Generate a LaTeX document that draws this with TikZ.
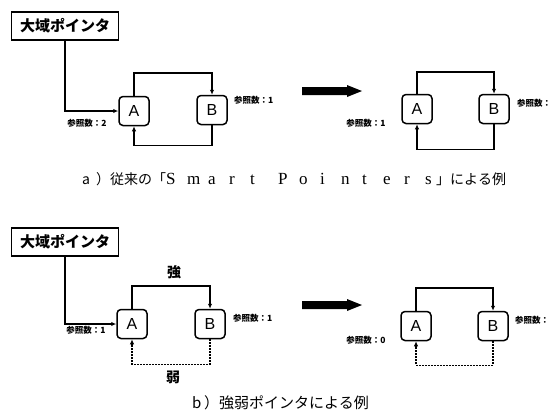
\documentclass[tikz,border=0pt]{standalone}
\usepackage{fontspec}
\setmainfont{Liberation Serif}
\setsansfont{Liberation Sans}
\newfontfamily\jp{Noto Sans CJK JP}
\usetikzlibrary{arrows.meta,calc}
\newcommand\lsp[1]{\makebox[21bp][l]{#1}}
\newcommand\jb[1]{\makebox[14bp][l]{#1}}
\begin{document}
\begin{tikzpicture}[x=1bp,y=-1bp,
  conn/.style={line width=1.5bp,-{Latex[length=5bp,width=4.5bp]}},
  weak/.style={line width=1.5bp,dash pattern=on 1.8bp off 1.2bp,-{Latex[length=5bp,width=4.5bp]}},
  gbox/.style={draw,line width=1.5bp,minimum width=107bp,minimum height=28bp,inner sep=0pt,font=\jp\bfseries\fontsize{15bp}{15bp}\selectfont},
  obj/.style={draw,line width=1.5bp,rounded corners=4bp,minimum width=30bp,minimum height=29bp,inner sep=0pt,font=\sffamily\fontsize{16bp}{16bp}\selectfont},
  cnt/.style={font=\jp\bfseries\fontsize{8.5bp}{9bp}\selectfont,inner sep=0pt},
  captext/.style={font=\jp\fontsize{14bp}{14bp}\selectfont,inner sep=0pt},
  lbl/.style={font=\jp\bfseries\fontsize{14bp}{14bp}\selectfont,inner sep=0pt},
  bigarrow/.style={fill=black}]
\useasboundingbox (0,0) rectangle (556,419);
% ---------- a) ----------
\node[gbox] (g1) at (65,26) {大域ポインタ};
\node[obj] (A1) at (134,111) {A};
\node[obj] (B1) at (212,110) {B};
\draw[conn] (g1.south) |- (A1.west);
\draw[conn] (A1.north) -- ++(0,-23) -| (B1.north);
\draw[conn] (B1.south) -- ++(0,20) -| (A1.south);
\node[cnt] (L1) at (87,123) {参照数：2};
\node[cnt,anchor=west] (L2) at (234,100) {参照数：1};
\fill[bigarrow] (302,87) -- (347,87) -- (347,85) -- (362,91) -- (347,97) -- (347,95) -- (302,95) -- cycle;
\node[obj] (A2) at (417,109) {A};
\node[obj] (B2) at (494,109) {B};
\draw[conn] (A2.north) -- ++(0,-22) -| (B2.north);
\draw[conn] (B2.south) -- ++(0,25) -| (A2.south);
\node[cnt] (L3) at (366,123) {参照数：1};
\node[cnt,anchor=west] (L4) at (517,103) {参照数：};
\node[captext,anchor=west] (capA) at (82,179) {\jb{a}\jb{）}\jb{従}\jb{来}\jb{の}\jb{「}{\rmfamily\fontsize{17bp}{17bp}\selectfont\lsp{S}\lsp{m}\lsp{a}\lsp{r}\lsp{t}\hspace{7bp}\lsp{P}\lsp{o}\lsp{i}\lsp{n}\lsp{t}\lsp{e}\lsp{r}\makebox[11bp][l]{s}}\jb{」}\jb{に}\jb{よ}\jb{る}\jb{例}};
% ---------- b) ----------
\node[gbox] (g2) at (65,242) {大域ポインタ};
\node[obj] (A3) at (132,324) {A};
\node[obj] (B3) at (210,324) {B};
\draw[conn] (g2.south) |- (A3.west);
\draw[conn] (A3.north) -- ++(0,-23) -| (B3.north);
\draw[weak] (B3.south) -- ++(0,25) -| (A3.south);
\node[lbl] (s1) at (174,272) {強};
\node[lbl] (w1) at (173,377) {弱};
\node[cnt] (L5) at (86,330) {参照数：1};
\node[cnt,anchor=west] (L6) at (233,318) {参照数：1};
\fill[bigarrow] (302,301) -- (347,301) -- (347,299) -- (362,305) -- (347,311) -- (347,309) -- (302,309) -- cycle;
\node[obj] (A4) at (416,326) {A};
\node[obj] (B4) at (493,326) {B};
\draw[conn] (A4.north) -- ++(0,-23) -| (B4.north);
\draw[weak] (B4.south) -- ++(0,24) -| (A4.south);
\node[cnt] (L7) at (366,340) {参照数：0};
\node[cnt,anchor=west] (L8) at (515,320) {参照数：};
\node[captext,anchor=west,font=\jp\fontsize{15bp}{15bp}\selectfont] (capB) at (192,403) {\makebox[12bp][l]{b}）強弱ポインタによる例};
\end{tikzpicture}
\end{document}
